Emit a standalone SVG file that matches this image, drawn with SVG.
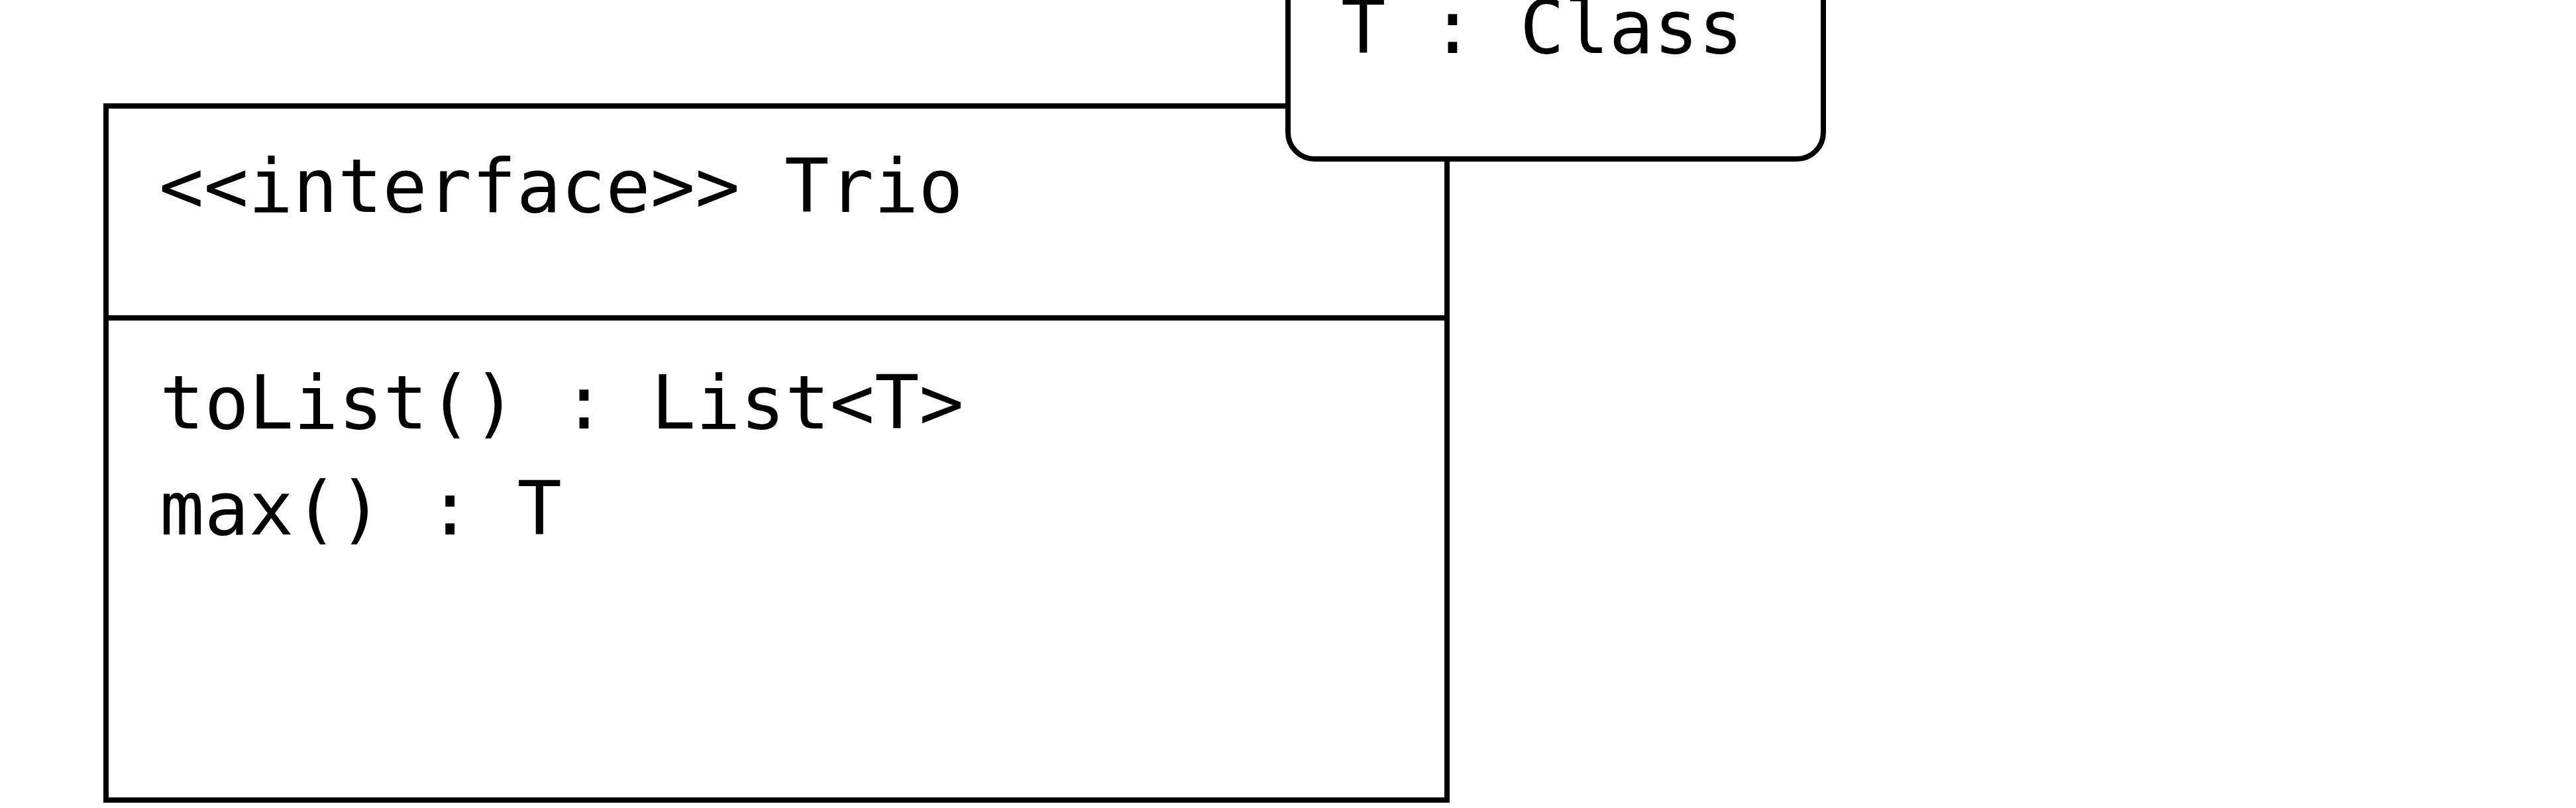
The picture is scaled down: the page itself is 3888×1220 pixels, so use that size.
<svg xmlns="http://www.w3.org/2000/svg" width="3888" height="1220" viewBox="0 0 3888 1220">
<style>
.t{font-family:"DejaVu Sans Mono",monospace;font-size:112px;fill:#000}
.b{fill:#fff;stroke:#000;stroke-width:8}
</style>
<rect width="3888" height="1220" fill="#fff"/>
<g id="connectors"></g>
<g id="trio">
<rect class="b" x="160" y="160" width="2024" height="1048"/>
<line x1="160" y1="480" x2="2184" y2="480" stroke="#000" stroke-width="8"/>
<text class="t" x="240" y="320">&lt;&lt;interface&gt;&gt; Trio</text>
<text class="t" x="241" y="647">toList() : List&lt;T&gt;</text>
<text class="t" x="241" y="807">max() : T</text>
</g>
<g id="template">
<rect class="b" x="1944" y="-200" width="808" height="440" rx="40" stroke-width="7"/>
<text class="t" x="2024" y="80">T : Class</text>
</g>
</svg>
